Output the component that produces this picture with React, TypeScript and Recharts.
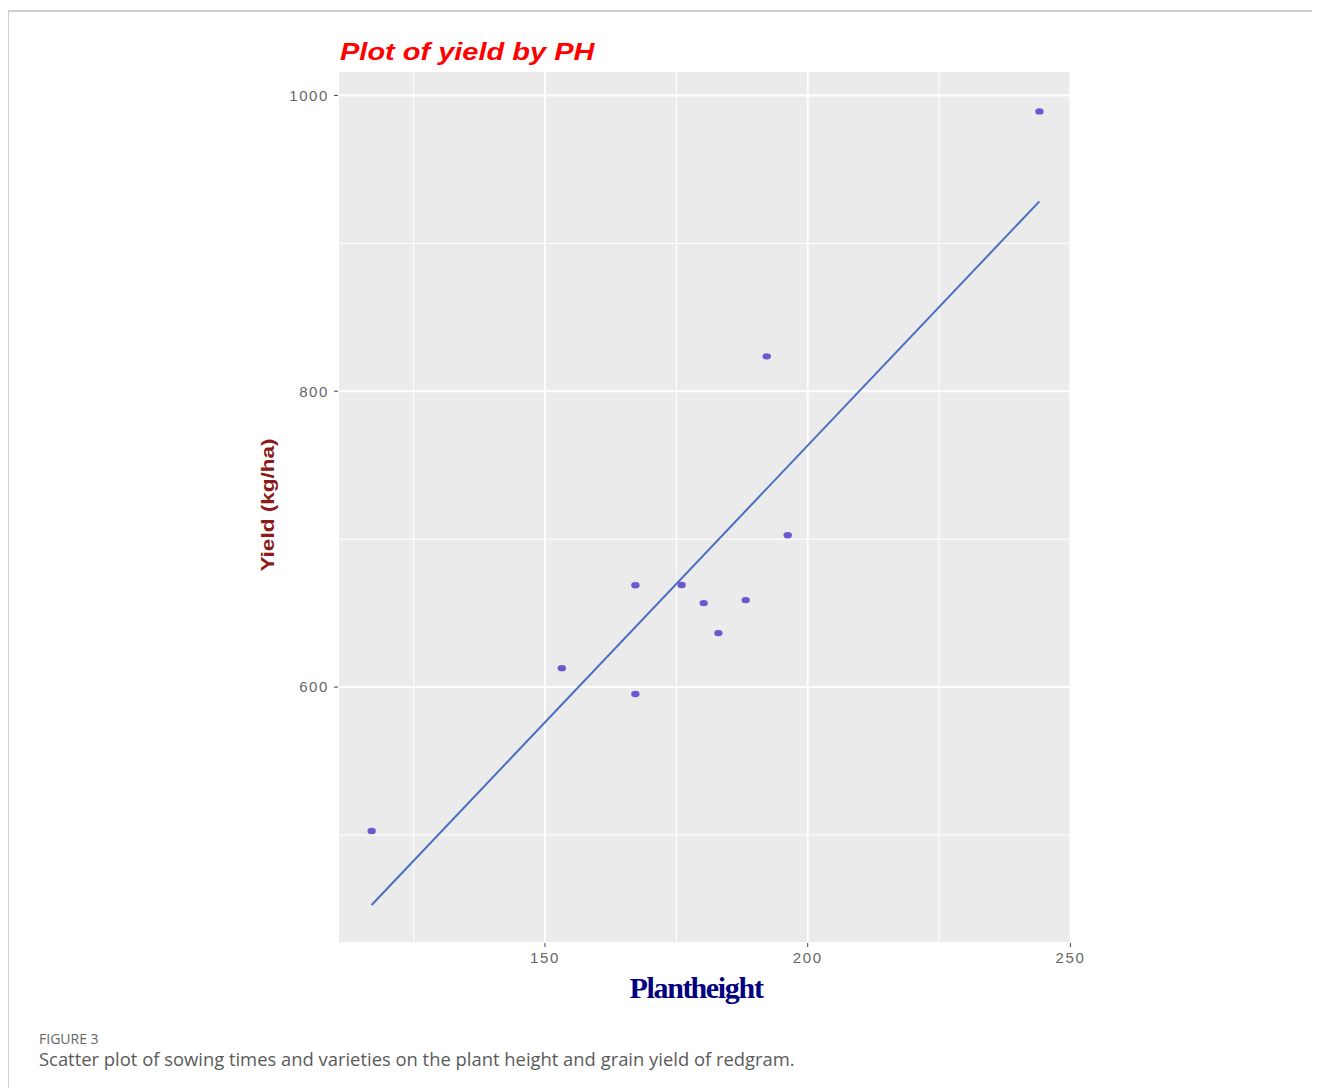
import React from 'react';
import {
  ComposedChart,
  Scatter,
  Line,
  XAxis,
  YAxis,
  CartesianGrid,
  ReferenceLine,
} from 'recharts';

// plant height (cm) vs grain yield (kg/ha)
const plantHeight = [117, 153.2, 167.2, 167.2, 176, 180.2, 183, 188.2, 192.2, 196.2, 244.1];
const grainYield = [502.7, 612.8, 668.9, 595.3, 669, 656.8, 636.5, 658.8, 823.6, 702.7, 989.2];

// ends of the fitted lm line
const fitHeight = [117, 244.1];
const fitYield = [452.7, 928.4];

const xTicks = [150, 200, 250];
const yTicks = [600, 800, 1000];
const xMinor = [125, 175, 225];
const yMinor = [500, 700, 900];

const points = plantHeight.map((x, i) => ({ x, y: grainYield[i] }));
const fit = fitHeight.map((x, i) => ({ x, y: fitYield[i] }));

const Dot = (props: any) => {
  const { cx, cy } = props;
  return <ellipse cx={cx} cy={cy} rx={4.2} ry={3.2} fill="#6a5acd" />;
};

const tickStyle = {
  fill: '#666',
  fontSize: 15,
  fontFamily: 'Liberation Sans, Arial, sans-serif',
  letterSpacing: 1.6,
};

export default function App() {
  return (
    <div style={{ position: 'relative', width: 1312, height: 1080 }}>
      <div
        style={{
          position: 'absolute',
          left: -1,
          top: 2,
          width: 1313,
          height: 1078,
          borderTop: '2px solid #cfcfcf',
          borderLeft: '2px solid #cfcfcf',
          boxSizing: 'border-box',
        }}
      />
      <div
        style={{
          position: 'absolute',
          left: 332,
          top: 31,
          color: '#ff0000',
          fontFamily: 'Liberation Sans, Arial, sans-serif',
          fontWeight: 'bold',
          fontStyle: 'italic',
          fontSize: 23,
          whiteSpace: 'nowrap',
          transform: 'scaleX(1.26)',
          transformOrigin: 'left center',
        }}
      >
        Plot of yield by PH
      </div>
      <ComposedChart
        width={1100}
        height={1010}
        margin={{ top: 63, right: 36, bottom: 45, left: 270 }}
        style={{ position: 'absolute', left: 0, top: 0 }}
      >
        <CartesianGrid fill="#ebebeb" stroke="#ffffff" strokeWidth={2} />
        {xMinor.map((v) => (
          <ReferenceLine key={'x' + v} x={v} stroke="#ffffff" strokeWidth={1} />
        ))}
        {yMinor.map((v) => (
          <ReferenceLine key={'y' + v} y={v} stroke="#ffffff" strokeWidth={1} />
        ))}
        <XAxis
          type="number"
          dataKey="x"
          domain={[110.6, 250.3]}
          ticks={xTicks}
          axisLine={false}
          tickLine={{ stroke: '#444' }}
          tickSize={4}
          tickMargin={5}
          tick={tickStyle}
          height={30}
          allowDataOverflow
        />
        <YAxis
          type="number"
          dataKey="y"
          domain={[427, 1016.5]}
          ticks={yTicks}
          axisLine={false}
          tickLine={{ stroke: '#444' }}
          tickSize={4}
          tickMargin={5}
          tick={tickStyle}
          width={60}
          allowDataOverflow
        />
        <Line
          data={fit}
          dataKey="y"
          type="linear"
          stroke="#4a6fc0"
          strokeWidth={2}
          dot={false}
          activeDot={false}
          isAnimationActive={false}
        />
        <Scatter data={points} dataKey="y" shape={Dot} isAnimationActive={false} />
      </ComposedChart>
      <div
        style={{
          position: 'absolute',
          left: 260,
          top: 497,
          transform: 'translate(-50%, -50%) rotate(-90deg) scaleX(0.98) scaleY(0.82)',
          color: '#8b1a1a',
          fontFamily: 'Liberation Sans Narrow, Arial Narrow, Liberation Sans, sans-serif',
          fontWeight: 'bold',
          fontSize: 23,
          whiteSpace: 'nowrap',
        }}
      >
        Yield (kg/ha)
      </div>
      <div
        style={{
          position: 'absolute',
          left: 688,
          top: 980,
          transform: 'translate(-50%, -50%)',
          color: '#000080',
          fontFamily: 'Liberation Serif, Times New Roman, serif',
          fontWeight: 'bold',
          fontSize: 30,
          letterSpacing: -1.3,
          wordSpacing: -7,
          whiteSpace: 'nowrap',
        }}
      >
        Plant height
      </div>
      <div
        style={{
          position: 'absolute',
          left: 31,
          top: 1024,
          color: '#666',
          fontFamily: 'Open Sans, Noto Sans, sans-serif',
          fontSize: 14,
          lineHeight: '14px',
        }}
      >
        FIGURE 3
      </div>
      <div
        style={{
          position: 'absolute',
          left: 31,
          top: 1042,
          color: '#5a5a5a',
          fontFamily: 'Open Sans, Noto Sans, sans-serif',
          fontSize: 18.4,
          lineHeight: '18px',
          whiteSpace: 'nowrap',
        }}
      >
        Scatter plot of sowing times and varieties on the plant height and grain yield of redgram.
      </div>
    </div>
  );
}
